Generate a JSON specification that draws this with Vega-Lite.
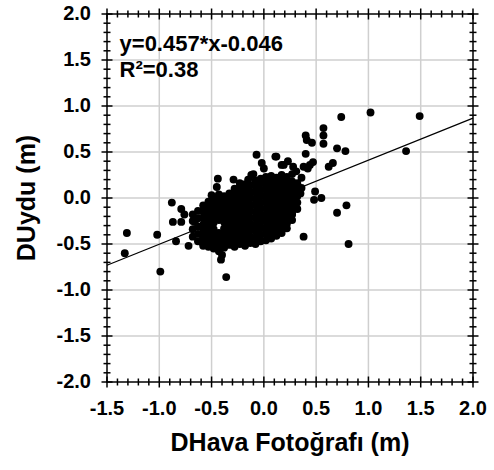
{
  "$schema": "https://vega.github.io/schema/vega-lite/v6.json",
  "autosize": {"type": "none"},
  "padding": {"left": 107, "top": 14, "right": 21, "bottom": 88},
  "width": 366,
  "height": 368,
  "background": "white",
  "config": {"view": {"stroke": null}},
  "datasets": {
    "pts": [
      {"x":-1.31,"y":-0.38},{"x":-1.33,"y":-0.60},{"x":-1.02,"y":-0.40},{"x":-0.99,"y":-0.80},{"x":-0.88,"y":-0.05},{"x":-0.79,"y":-0.12},{"x":-0.76,"y":-0.18},{"x":-0.87,"y":-0.26},{"x":-0.79,"y":-0.26},{"x":-0.84,"y":-0.47},{"x":-0.72,"y":-0.52},{"x":-0.66,"y":-0.26},{"x":-0.58,"y":-0.52},{"x":-0.52,"y":-0.52},{"x":-0.58,"y":-0.44},{"x":-0.43,"y":-0.58},{"x":-0.40,"y":-0.62},{"x":-0.41,"y":-0.67},{"x":-0.36,"y":-0.86},{"x":-0.50,"y":0.03},{"x":-0.44,"y":0.21},{"x":-0.45,"y":0.12},{"x":-0.29,"y":0.20},{"x":-0.23,"y":0.16},{"x":-0.15,"y":0.20},{"x":-0.10,"y":0.26},{"x":-0.07,"y":0.47},{"x":-0.02,"y":0.38},{"x":0.0,"y":0.32},{"x":0.11,"y":0.45},{"x":0.17,"y":0.36},{"x":0.23,"y":0.40},{"x":0.28,"y":0.34},{"x":0.31,"y":0.29},{"x":0.74,"y":0.88},{"x":1.02,"y":0.93},{"x":1.49,"y":0.89},{"x":1.36,"y":0.51},{"x":0.40,"y":0.68},{"x":0.41,"y":0.63},{"x":0.46,"y":0.60},{"x":0.57,"y":0.76},{"x":0.57,"y":0.68},{"x":0.57,"y":0.59},{"x":0.70,"y":0.54},{"x":0.78,"y":0.51},{"x":0.40,"y":0.48},{"x":0.62,"y":0.34},{"x":0.66,"y":0.38},{"x":0.47,"y":0.39},{"x":0.42,"y":0.32},{"x":0.36,"y":0.11},{"x":0.49,"y":0.07},{"x":0.48,"y":-0.02},{"x":0.55,"y":0.0},{"x":0.70,"y":-0.16},{"x":0.79,"y":-0.08},{"x":0.38,"y":-0.42},{"x":0.81,"y":-0.50},{"x":0.12,"y":0.45},{"x":0.19,"y":0.36},{"x":0.38,"y":0.34},{"x":0.44,"y":0.36},{"x":0.36,"y":0.22},{"x":-0.20,"y":0.14},{"x":-0.12,"y":0.25},{"x":0.35,"y":0.05},{"x":0.28,"y":-0.09},{"x":0.27,"y":-0.18},{"x":0.22,"y":-0.28},
      {"x":-0.68,"y":-0.42},{"x":-0.68,"y":-0.34},{"x":-0.68,"y":-0.25},{"x":-0.68,"y":-0.18},
      {"x":-0.63,"y":-0.47},{"x":-0.63,"y":-0.39},{"x":-0.63,"y":-0.31},{"x":-0.63,"y":-0.22},{"x":-0.63,"y":-0.14},
      {"x":-0.58,"y":-0.50},{"x":-0.58,"y":-0.43},{"x":-0.58,"y":-0.36},{"x":-0.58,"y":-0.29},{"x":-0.58,"y":-0.22},{"x":-0.58,"y":-0.15},{"x":-0.58,"y":-0.08},
      {"x":-0.53,"y":-0.53},{"x":-0.53,"y":-0.46},{"x":-0.53,"y":-0.39},{"x":-0.53,"y":-0.32},{"x":-0.53,"y":-0.25},{"x":-0.53,"y":-0.18},{"x":-0.53,"y":-0.11},{"x":-0.53,"y":-0.04},
      {"x":-0.48,"y":-0.55},{"x":-0.48,"y":-0.48},{"x":-0.48,"y":-0.41},{"x":-0.48,"y":-0.34},{"x":-0.48,"y":-0.27},{"x":-0.48,"y":-0.20},{"x":-0.48,"y":-0.13},{"x":-0.48,"y":-0.06},{"x":-0.48,"y":0.01},
      {"x":-0.43,"y":-0.52},{"x":-0.43,"y":-0.45},{"x":-0.43,"y":-0.38},{"x":-0.43,"y":-0.24},{"x":-0.43,"y":-0.17},{"x":-0.43,"y":-0.10},{"x":-0.43,"y":-0.03},{"x":-0.43,"y":0.04},
      {"x":-0.38,"y":-0.54},{"x":-0.38,"y":-0.47},{"x":-0.38,"y":-0.40},{"x":-0.38,"y":-0.33},{"x":-0.38,"y":-0.26},{"x":-0.38,"y":-0.19},{"x":-0.38,"y":-0.12},{"x":-0.38,"y":-0.05},{"x":-0.38,"y":0.02},
      {"x":-0.33,"y":-0.51},{"x":-0.33,"y":-0.44},{"x":-0.33,"y":-0.37},{"x":-0.33,"y":-0.30},{"x":-0.33,"y":-0.23},{"x":-0.33,"y":-0.16},{"x":-0.33,"y":-0.09},{"x":-0.33,"y":-0.02},{"x":-0.33,"y":0.05},
      {"x":-0.28,"y":-0.53},{"x":-0.28,"y":-0.46},{"x":-0.28,"y":-0.39},{"x":-0.28,"y":-0.32},{"x":-0.28,"y":-0.25},{"x":-0.28,"y":-0.18},{"x":-0.28,"y":-0.11},{"x":-0.28,"y":-0.04},{"x":-0.28,"y":0.03},{"x":-0.28,"y":0.10},
      {"x":-0.23,"y":-0.50},{"x":-0.23,"y":-0.43},{"x":-0.23,"y":-0.36},{"x":-0.23,"y":-0.29},{"x":-0.23,"y":-0.22},{"x":-0.23,"y":-0.15},{"x":-0.23,"y":-0.08},{"x":-0.23,"y":-0.01},{"x":-0.23,"y":0.06},{"x":-0.23,"y":0.12},
      {"x":-0.18,"y":-0.52},{"x":-0.18,"y":-0.45},{"x":-0.18,"y":-0.38},{"x":-0.18,"y":-0.31},{"x":-0.18,"y":-0.24},{"x":-0.18,"y":-0.17},{"x":-0.18,"y":-0.10},{"x":-0.18,"y":-0.03},{"x":-0.18,"y":0.04},{"x":-0.18,"y":0.11},{"x":-0.18,"y":0.15},
      {"x":-0.13,"y":-0.49},{"x":-0.13,"y":-0.42},{"x":-0.13,"y":-0.35},{"x":-0.13,"y":-0.28},{"x":-0.13,"y":-0.21},{"x":-0.13,"y":-0.14},{"x":-0.13,"y":-0.07},{"x":-0.13,"y":0.00},{"x":-0.13,"y":0.07},{"x":-0.13,"y":0.14},
      {"x":-0.08,"y":-0.50},{"x":-0.08,"y":-0.43},{"x":-0.08,"y":-0.36},{"x":-0.08,"y":-0.29},{"x":-0.08,"y":-0.22},{"x":-0.08,"y":-0.15},{"x":-0.08,"y":-0.08},{"x":-0.08,"y":-0.01},{"x":-0.08,"y":0.06},{"x":-0.08,"y":0.13},{"x":-0.08,"y":0.19},
      {"x":-0.03,"y":-0.47},{"x":-0.03,"y":-0.40},{"x":-0.03,"y":-0.33},{"x":-0.03,"y":-0.26},{"x":-0.03,"y":-0.19},{"x":-0.03,"y":-0.12},{"x":-0.03,"y":-0.05},{"x":-0.03,"y":0.02},{"x":-0.03,"y":0.09},{"x":-0.03,"y":0.16},{"x":-0.03,"y":0.21},
      {"x":0.02,"y":-0.46},{"x":0.02,"y":-0.39},{"x":0.02,"y":-0.32},{"x":0.02,"y":-0.25},{"x":0.02,"y":-0.18},{"x":0.02,"y":-0.11},{"x":0.02,"y":-0.04},{"x":0.02,"y":0.03},{"x":0.02,"y":0.10},{"x":0.02,"y":0.17},{"x":0.02,"y":0.23},
      {"x":0.07,"y":-0.44},{"x":0.07,"y":-0.37},{"x":0.07,"y":-0.30},{"x":0.07,"y":-0.23},{"x":0.07,"y":-0.16},{"x":0.07,"y":-0.09},{"x":0.07,"y":-0.02},{"x":0.07,"y":0.05},{"x":0.07,"y":0.12},{"x":0.07,"y":0.19},{"x":0.07,"y":0.24},
      {"x":0.12,"y":-0.41},{"x":0.12,"y":-0.34},{"x":0.12,"y":-0.27},{"x":0.12,"y":-0.20},{"x":0.12,"y":-0.13},{"x":0.12,"y":-0.06},{"x":0.12,"y":0.01},{"x":0.12,"y":0.08},{"x":0.12,"y":0.15},{"x":0.12,"y":0.22},
      {"x":0.17,"y":-0.38},{"x":0.17,"y":-0.31},{"x":0.17,"y":-0.24},{"x":0.17,"y":-0.17},{"x":0.17,"y":-0.10},{"x":0.17,"y":-0.03},{"x":0.17,"y":0.04},{"x":0.17,"y":0.11},{"x":0.17,"y":0.18},{"x":0.17,"y":0.25},
      {"x":0.22,"y":-0.33},{"x":0.22,"y":-0.26},{"x":0.22,"y":-0.19},{"x":0.22,"y":-0.12},{"x":0.22,"y":-0.05},{"x":0.22,"y":0.02},{"x":0.22,"y":0.09},{"x":0.22,"y":0.16},{"x":0.22,"y":0.23},
      {"x":0.27,"y":-0.24},{"x":0.27,"y":-0.17},{"x":0.27,"y":-0.10},{"x":0.27,"y":-0.03},{"x":0.27,"y":0.04},{"x":0.27,"y":0.11},{"x":0.27,"y":0.18},{"x":0.27,"y":0.26},
      {"x":0.32,"y":-0.12},{"x":0.32,"y":-0.05},{"x":0.32,"y":0.02},{"x":0.32,"y":0.09},{"x":0.32,"y":0.16}
    ],
    "fit": [{"x": -1.5, "y": -0.7315}, {"x": 2.0, "y": 0.868}],
    "notes": [{"x": -1.38, "y": 1.67, "label": "y=0.457*x-0.046"}, {"x": -1.38, "y": 1.39, "label": "R²=0.38"}],
    "frame": [
      {"x": -1.5, "y": -2.0, "x2": 2.0, "y2": -2.0},
      {"x": -1.5, "y": 2.0, "x2": 2.0, "y2": 2.0},
      {"x": -1.5, "y": -2.0, "x2": -1.5, "y2": 2.0},
      {"x": 2.0, "y": -2.0, "x2": 2.0, "y2": 2.0}
    ],
    "gridx": [{"v":-1.0},{"v":-0.5},{"v":0},{"v":0.5},{"v":1.0},{"v":1.5}],
    "gridy": [{"v":-1.5},{"v":-1.0},{"v":-0.5},{"v":0},{"v":0.5},{"v":1.0},{"v":1.5}],
    "xlab": [{"v":-1.5,"t":"-1.5"},{"v":-1.0,"t":"-1.0"},{"v":-0.5,"t":"-0.5"},{"v":0,"t":"0.0"},{"v":0.5,"t":"0.5"},{"v":1.0,"t":"1.0"},{"v":1.5,"t":"1.5"},{"v":2.0,"t":"2.0"}],
    "ylab": [{"v":-2.0,"t":"-2.0"},{"v":-1.5,"t":"-1.5"},{"v":-1.0,"t":"-1.0"},{"v":-0.5,"t":"-0.5"},{"v":0,"t":"0.0"},{"v":0.5,"t":"0.5"},{"v":1.0,"t":"1.0"},{"v":1.5,"t":"1.5"},{"v":2.0,"t":"2.0"}],
    "titles": [{"x": 0.25, "y": -2.0, "t": "DHava Fotoğrafı (m)"}],
    "ytitle": [{"x": -1.5, "y": 0.0, "t": "DUydu (m)"}],
    "xticks": [{"v":-1.5},{"v":-1.4},{"v":-1.3},{"v":-1.2},{"v":-1.1},{"v":-1.0},{"v":-0.9},{"v":-0.8},{"v":-0.7},{"v":-0.6},{"v":-0.5},{"v":-0.4},{"v":-0.3},{"v":-0.2},{"v":-0.1},{"v":0},{"v":0.1},{"v":0.2},{"v":0.3},{"v":0.4},{"v":0.5},{"v":0.6},{"v":0.7},{"v":0.8},{"v":0.9},{"v":1.0},{"v":1.1},{"v":1.2},{"v":1.3},{"v":1.4},{"v":1.5},{"v":1.6},{"v":1.7},{"v":1.8},{"v":1.9},{"v":2.0}],
    "yticks": [{"v":-2.0},{"v":-1.9},{"v":-1.8},{"v":-1.7},{"v":-1.6},{"v":-1.5},{"v":-1.4},{"v":-1.3},{"v":-1.2},{"v":-1.1},{"v":-1.0},{"v":-0.9},{"v":-0.8},{"v":-0.7},{"v":-0.6},{"v":-0.5},{"v":-0.4},{"v":-0.3},{"v":-0.2},{"v":-0.1},{"v":0},{"v":0.1},{"v":0.2},{"v":0.3},{"v":0.4},{"v":0.5},{"v":0.6},{"v":0.7},{"v":0.8},{"v":0.9},{"v":1.0},{"v":1.1},{"v":1.2},{"v":1.3},{"v":1.4},{"v":1.5},{"v":1.6},{"v":1.7},{"v":1.8},{"v":1.9},{"v":2.0}]
  },
  "layer": [
    {
      "data": {"name": "gridx"},
      "mark": {"type": "rule", "color": "#cfcfcf", "strokeWidth": 1.5},
      "encoding": {
        "x": {"field": "v", "type": "quantitative", "axis": null, "scale": {"domain": [-1.5, 2.0], "nice": false, "zero": false}}
      }
    },
    {
      "data": {"name": "gridy"},
      "mark": {"type": "rule", "color": "#cfcfcf", "strokeWidth": 1.5},
      "encoding": {
        "y": {"field": "v", "type": "quantitative", "axis": null, "scale": {"domain": [-2.0, 2.0], "nice": false, "zero": false}}
      }
    },
    {
      "data": {"name": "pts"},
      "mark": {"type": "point", "shape": "circle", "filled": true, "color": "black", "opacity": 1, "size": 62},
      "encoding": {
        "x": {"field": "x", "type": "quantitative", "axis": null, "scale": {"domain": [-1.5, 2.0], "nice": false, "zero": false}},
        "y": {"field": "y", "type": "quantitative", "axis": null, "scale": {"domain": [-2.0, 2.0], "nice": false, "zero": false}}
      }
    },
    {
      "data": {"name": "fit"},
      "mark": {"type": "line", "color": "black", "strokeWidth": 1.2},
      "encoding": {
        "x": {"field": "x", "type": "quantitative", "axis": null},
        "y": {"field": "y", "type": "quantitative", "axis": null}
      }
    },
    {
      "data": {"name": "notes"},
      "mark": {"type": "text", "align": "left", "baseline": "middle", "font": "Liberation Sans", "fontSize": 22, "fontWeight": "bold", "color": "black"},
      "encoding": {
        "text": {"field": "label"},
        "x": {"field": "x", "type": "quantitative", "axis": null},
        "y": {"field": "y", "type": "quantitative", "axis": null}
      }
    },
    {
      "data": {"name": "frame"},
      "mark": {"type": "rule", "color": "black", "strokeWidth": 1.5, "strokeCap": "square"},
      "encoding": {
        "x": {"field": "x", "type": "quantitative", "axis": null},
        "y": {"field": "y", "type": "quantitative", "axis": null},
        "x2": {"field": "x2"},
        "y2": {"field": "y2"}
      }
    },
    {
      "data": {"name": "xticks"},
      "mark": {"type": "tick", "orient": "vertical", "color": "black", "thickness": 1.5, "opacity": 1},
      "encoding": {
        "x": {"field": "v", "type": "quantitative", "axis": null},
        "y": {"datum": -2.0, "type": "quantitative", "axis": null},
        "size": {"condition": {"test": "abs(datum.v*2 - round(datum.v*2)) < 0.01", "value": 11}, "value": 7}
      }
    },
    {
      "data": {"name": "xticks"},
      "mark": {"type": "tick", "orient": "vertical", "color": "black", "thickness": 1.5, "opacity": 1},
      "encoding": {
        "x": {"field": "v", "type": "quantitative", "axis": null},
        "y": {"datum": 2.0, "type": "quantitative", "axis": null},
        "size": {"condition": {"test": "abs(datum.v*2 - round(datum.v*2)) < 0.01", "value": 11}, "value": 7}
      }
    },
    {
      "data": {"name": "yticks"},
      "mark": {"type": "tick", "orient": "horizontal", "color": "black", "thickness": 1.5, "opacity": 1},
      "encoding": {
        "y": {"field": "v", "type": "quantitative", "axis": null},
        "x": {"datum": -1.5, "type": "quantitative", "axis": null},
        "size": {"condition": {"test": "abs(datum.v*2 - round(datum.v*2)) < 0.01", "value": 11}, "value": 7}
      }
    },
    {
      "data": {"name": "yticks"},
      "mark": {"type": "tick", "orient": "horizontal", "color": "black", "thickness": 1.5, "opacity": 1},
      "encoding": {
        "y": {"field": "v", "type": "quantitative", "axis": null},
        "x": {"datum": 2.0, "type": "quantitative", "axis": null},
        "size": {"condition": {"test": "abs(datum.v*2 - round(datum.v*2)) < 0.01", "value": 11}, "value": 7}
      }
    },
    {
      "data": {"name": "xlab"},
      "mark": {"type": "text", "align": "center", "baseline": "middle", "dy": 27, "font": "Liberation Sans", "fontSize": 20, "fontWeight": "bold", "color": "black"},
      "encoding": {
        "text": {"field": "t"},
        "x": {"field": "v", "type": "quantitative", "axis": null},
        "y": {"datum": -2.0, "type": "quantitative", "axis": null}
      }
    },
    {
      "data": {"name": "ylab"},
      "mark": {"type": "text", "align": "right", "baseline": "middle", "dx": -16, "font": "Liberation Sans", "fontSize": 20, "fontWeight": "bold", "color": "black"},
      "encoding": {
        "text": {"field": "t"},
        "y": {"field": "v", "type": "quantitative", "axis": null},
        "x": {"datum": -1.5, "type": "quantitative", "axis": null}
      }
    },
    {
      "data": {"name": "titles"},
      "mark": {"type": "text", "align": "center", "baseline": "middle", "dy": 61, "font": "Liberation Sans", "fontSize": 25, "fontWeight": "bold", "color": "black"},
      "encoding": {
        "text": {"field": "t"},
        "x": {"field": "x", "type": "quantitative", "axis": null},
        "y": {"field": "y", "type": "quantitative", "axis": null}
      }
    },
    {
      "data": {"name": "ytitle"},
      "mark": {"type": "text", "align": "center", "baseline": "middle", "angle": 270, "dy": -80, "font": "Liberation Sans", "fontSize": 25, "fontWeight": "bold", "color": "black"},
      "encoding": {
        "text": {"field": "t"},
        "x": {"field": "x", "type": "quantitative", "axis": null},
        "y": {"field": "y", "type": "quantitative", "axis": null}
      }
    }
  ]
}
